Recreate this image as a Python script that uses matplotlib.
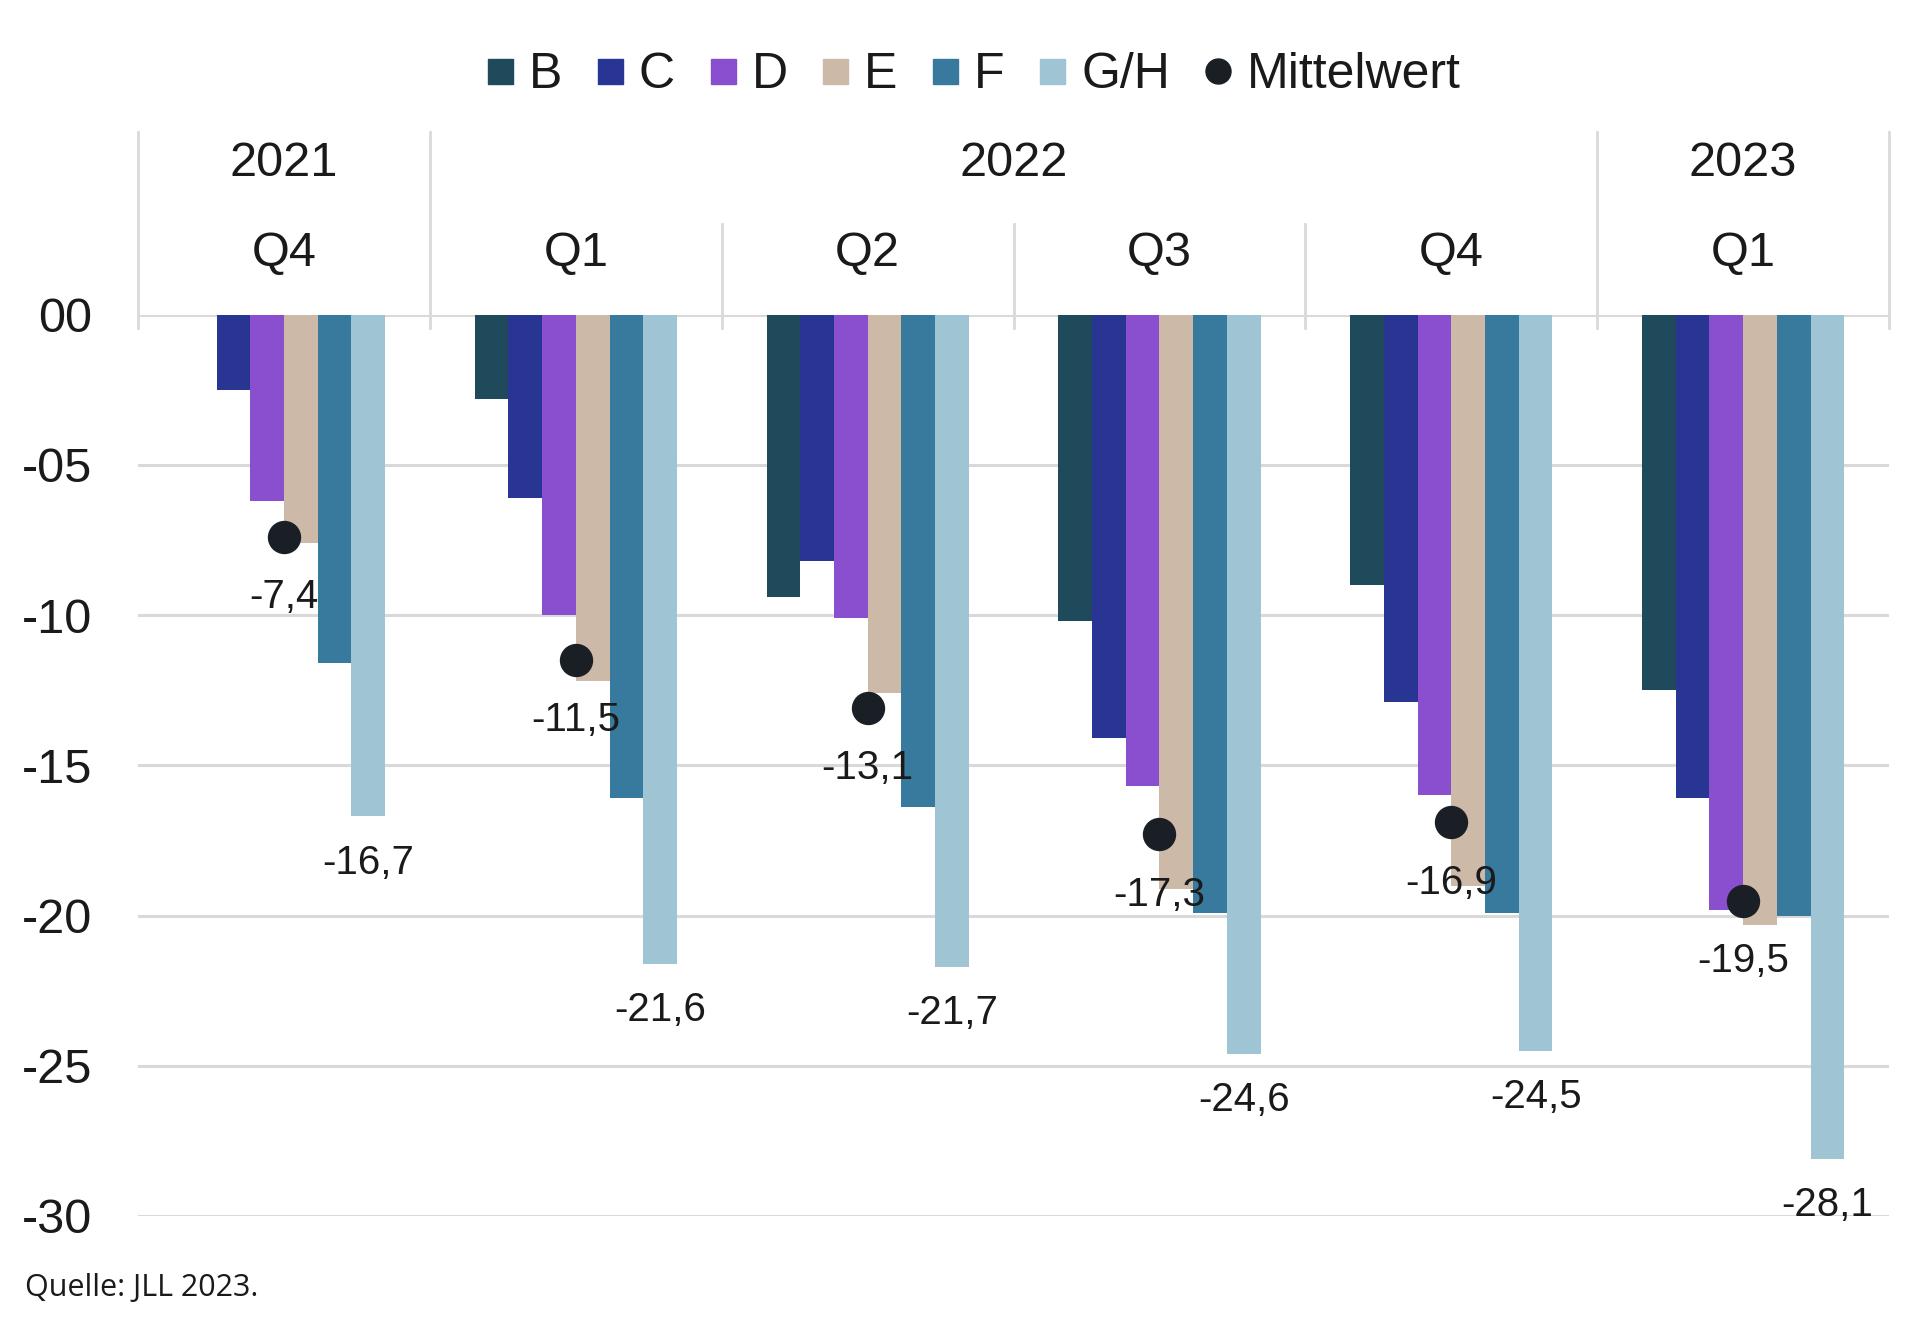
import numpy as np
import matplotlib.pyplot as plt
from matplotlib.lines import Line2D

plt.rcParams['font.family'] = ['Liberation Sans', 'DejaVu Sans']

# --- data ---
years = ['2021', '2022', '2023']
year_span = [(0, 0), (1, 4), (5, 5)]   # first/last quarter index of each year
quarters = ['Q4', 'Q1', 'Q2', 'Q3', 'Q4', 'Q1']
series = ['B', 'C', 'D', 'E', 'F', 'G/H']
B = [np.nan, -2.8, -9.4, -10.2, -9.0, -12.5]
C = [-2.5, -6.1, -8.2, -14.1, -12.9, -16.1]
D = [-6.2, -10.0, -10.1, -15.7, -16.0, -19.8]
E = [-7.6, -12.2, -12.6, -19.1, -19.0, -20.3]
F = [-11.6, -16.1, -16.4, -19.9, -19.9, -20.0]
GH = [-16.7, -21.6, -21.7, -24.6, -24.5, -28.1]
mittelwert = [-7.4, -11.5, -13.1, -17.3, -16.9, -19.5]
yticks = [0, -5, -10, -15, -20, -25, -30]
ytick_labels = ['00', '-05', '-10', '-15', '-20', '-25', '-30']

colors = ['#1f4a5c', '#283593', '#8a4fcf', '#cdb9a8', '#377a9e', '#9fc5d5']
grid_col = '#d9d9d9'
txt_col = '#1a1a1a'

def de(v):
    return f"{v:.1f}".replace('.', ',')

fig = plt.figure(figsize=(19.2, 13.24), dpi=100)
ax = fig.add_axes([0.0719, 0.0816, 0.912, 0.6807])

x = np.arange(len(quarters))
w = 0.1155
vals = [B, C, D, E, F, GH]
for i, (name, v, c) in enumerate(zip(series, vals, colors)):
    ax.bar(x + (i - 2.5) * w, v, width=w, color=c, zorder=2, label=name)

# mean dots and labels
ax.plot(x, mittelwert, 'o', color='#1a1f26', markersize=23, zorder=5)
for xi, m in zip(x, mittelwert):
    ax.text(xi, m - 2.0, de(m), ha='center', va='center', fontsize=29, color=txt_col, zorder=6)
# G/H labels
for xi, g in zip(x, GH):
    ax.text(xi + 2.5 * w, g - 1.55, de(g), ha='center', va='center', fontsize=29, color=txt_col,
            zorder=6, clip_on=False)

ax.set_xlim(-0.5, 5.5)
ax.set_ylim(-30, 0)
ax.set_yticks(yticks)
ax.set_yticklabels(ytick_labels)
ax.tick_params(axis='y', length=0, pad=33, labelsize=35, labelcolor=txt_col)
ax.set_xticks([])
for s in ax.spines.values():
    s.set_visible(False)
for t in yticks:
    ax.axhline(t, color=grid_col, lw=2.2, zorder=1)

# header: years and quarters
for b in [-0.5, 0.5, 4.5, 5.5]:
    ax.plot([b, b], [6.07, -0.45], color=grid_col, lw=2, clip_on=False, zorder=1)
for b in [1.5, 2.5, 3.5]:
    ax.plot([b, b], [3.02, -0.45], color=grid_col, lw=2, clip_on=False, zorder=1)
for yr, (a, b) in zip(years, year_span):
    ax.text((a + b) / 2, 5.05, yr, ha='center', va='center', fontsize=35, color=txt_col, clip_on=False)
for xi, q in zip(x, quarters):
    ax.text(xi, 2.04, q, ha='center', va='center', fontsize=35, color=txt_col, clip_on=False)

# legend
handles = [Line2D([], [], marker='s', linestyle='none', color=c, markersize=18) for c in colors]
handles.append(Line2D([], [], marker='o', linestyle='none', color='#1a1f26', markersize=18))
labels = series + ['Mittelwert']
fig.legend(handles, labels, loc='center', bbox_to_anchor=(0.507, 0.943), ncol=7, frameon=False,
           fontsize=36, handlelength=0.55, handletextpad=0.3, columnspacing=0.68, labelcolor=txt_col)

fig.text(0.0128, 0.027, 'Quelle: JLL 2023.', fontsize=22, family=['Open Sans', 'DejaVu Sans'],
         color=txt_col, va='center', ha='left')

fig.savefig('out.png', dpi=100, facecolor='white')
